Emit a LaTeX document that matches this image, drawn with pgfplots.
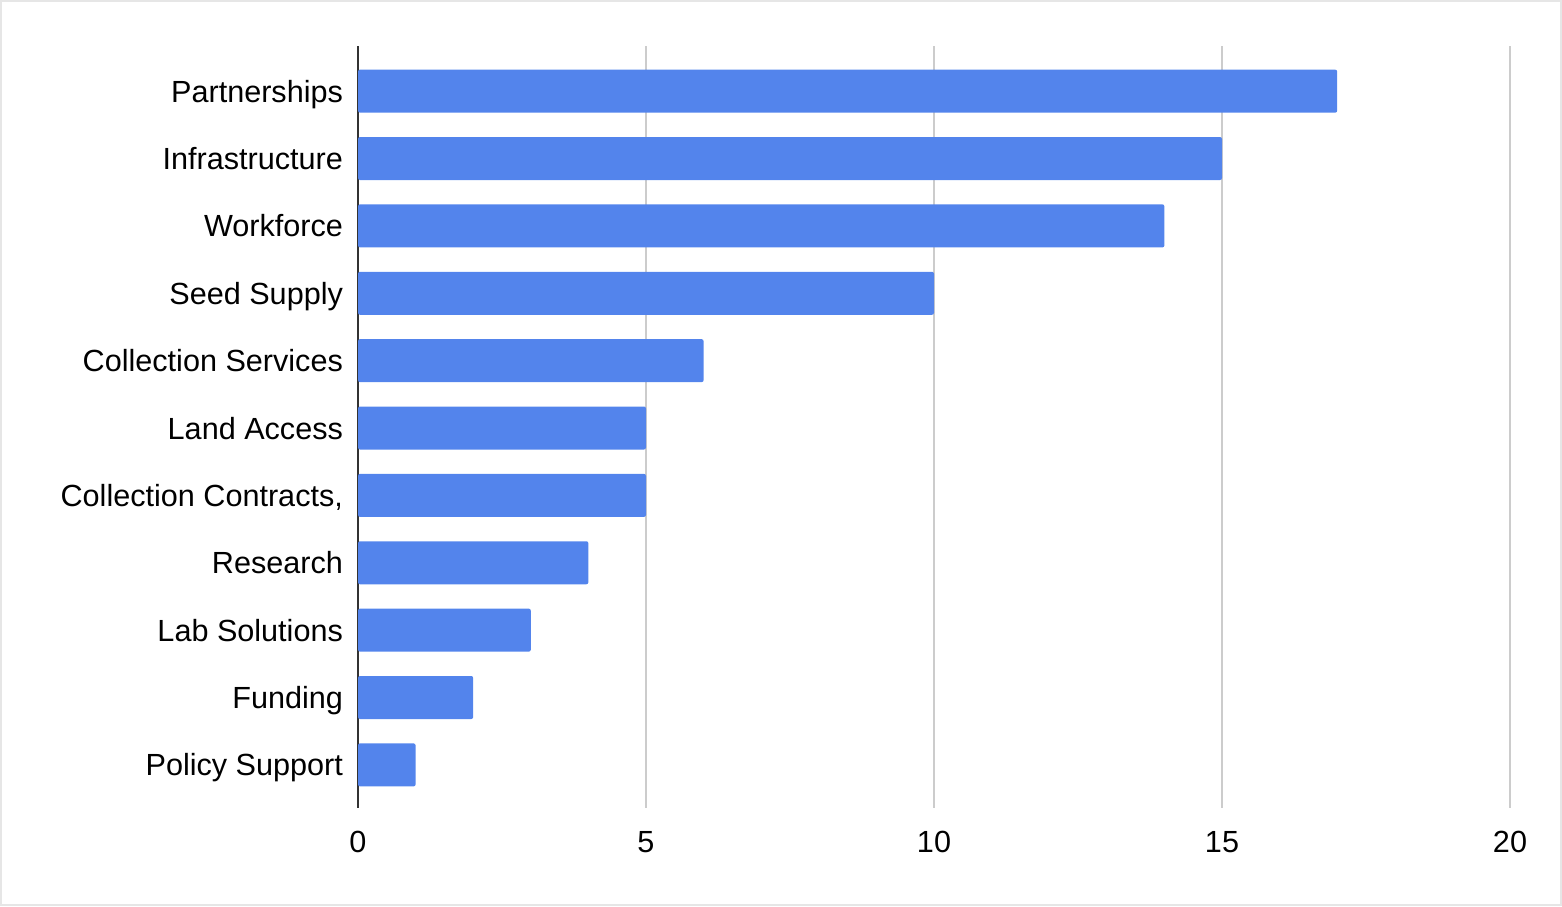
\documentclass[border=0pt]{standalone}
\usepackage{pgfplots}
\pgfplotsset{compat=1.18}
\usepackage{fontspec}
\setmainfont{Liberation Sans}
\definecolor{barblue}{HTML}{5384EC}
\definecolor{gridgray}{HTML}{CCCCCC}
\definecolor{axisdark}{HTML}{333333}
\definecolor{framegray}{HTML}{E6E6E6}
\begin{document}
\begin{tikzpicture}[x=1pt,y=1pt]
\useasboundingbox (0,0) rectangle (781,453);
\draw[framegray, line width=1pt] (0.5,0.5) rectangle (780.5,452.5);
\begin{axis}[
  at={(179pt,49pt)}, anchor=south west,
  scale only axis, width=576pt, height=381pt,
  xbar, bar width=21.5pt,
  xmin=0, xmax=20,
  ymin=-0.67, ymax=10.64,
  y dir=reverse,
  xtick={0,5,10,15,20},
  ytick={0,1,2,3,4,5,6,7,8,9,10},
  yticklabels={Partnerships,Infrastructure,Workforce,Seed Supply,Collection Services,Land Access,{Collection Contracts,},Research,Lab Solutions,Funding,Policy Support},
  xmajorgrids, major grid style={gridgray, line width=1pt},
  axis x line*=bottom,
  axis y line*=left,
  x axis line style={draw=none},
  y axis line style={axisdark, line width=1pt, -},
  major tick length=0pt,
  tick style={draw=none},
  /pgf/number format/assume math mode=true,
  ticklabel style={font=\fontsize{15.3}{18}\selectfont, text=black},
  yticklabel style={anchor=base east, xshift=-4pt, yshift=-5.5pt},
  xticklabel style={anchor=base, yshift=-22pt},
  clip=false,
]
\addplot[fill=barblue, draw=none, rounded corners=1pt] coordinates {
(17,0) (15,1) (14,2) (10,3) (6,4) (5,5) (5,6) (4,7) (3,8) (2,9) (1,10)
};
\end{axis}
\end{tikzpicture}
\end{document}
